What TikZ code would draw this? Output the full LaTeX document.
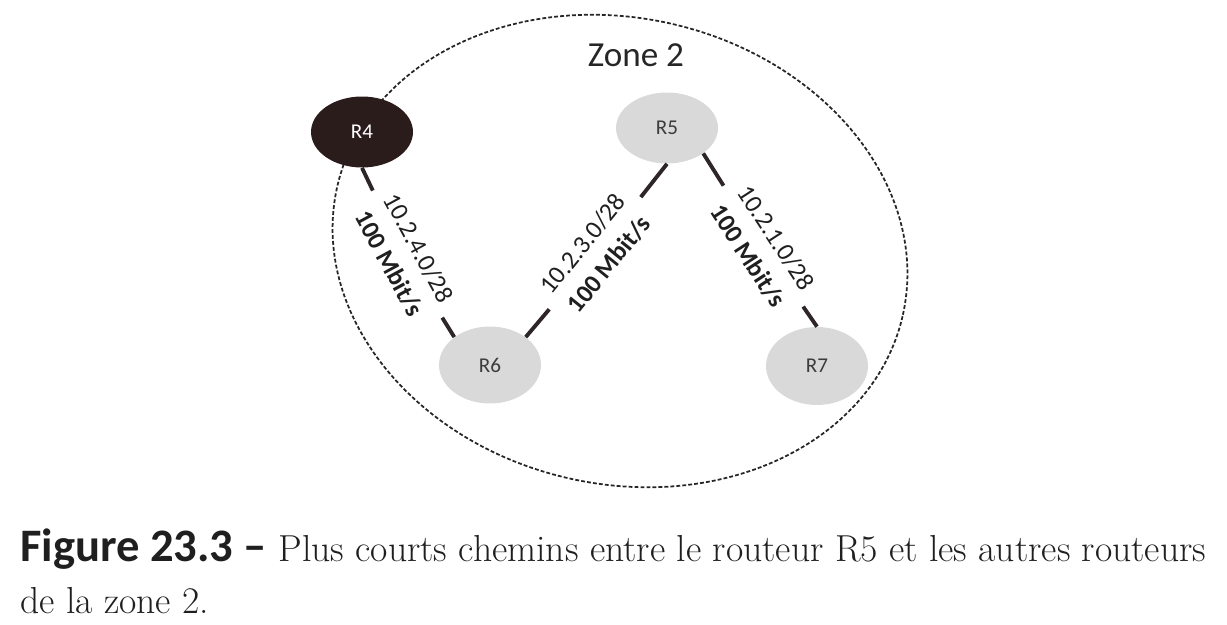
\documentclass[tikz,border=0pt]{standalone}
\usepackage{fontspec}
\newfontfamily\calibri{Carlito}
\usetikzlibrary{shapes.geometric}

\definecolor{routerGray}{HTML}{D9D9D9}
\definecolor{routerDark}{HTML}{2B1C1C}
\definecolor{linkDark}{HTML}{2E2626}
\definecolor{textGray}{HTML}{3C3C3C}

\begin{document}
\begin{tikzpicture}[x=0.02cm,y=-0.02cm,
  router/.style={ellipse,fill=routerGray,text=textGray,inner sep=0pt,
    minimum width=2.04cm,minimum height=1.42cm,
    font=\calibri\fontsize{12}{14}\selectfont},
  link/.style={draw=linkDark,line width=2.2pt},
  netlbl/.style={align=center,inner xsep=7pt,inner ysep=1pt,text=black!88,
    font=\calibri\fontsize{14.5}{19}\selectfont}]
  \useasboundingbox (0,0) rectangle (1227,625);

  \draw[black!85,line width=1pt,dash pattern=on 2.2pt off 1.2pt,
    rotate around={-13:(620,251)}] (620,251) ellipse [x radius=290,y radius=233];
  \node[font=\calibri\fontsize{20}{24}\selectfont,text=black!85] (zone) at (636,55) {Zone 2};

  \node[router,fill=routerDark,text=white] (r4) at (362,132) {R4};
  \node[router] (r5) at (667,128) {R5};
  \node[router,minimum height=1.54cm] (r6) at (490,365) {R6};
  \node[router,minimum height=1.56cm] (r7) at (817,366) {R7};

  \node[netlbl,rotate=-61.5] (n46) at (404,256) {10.2.4.0/28\\\textbf{100 Mbit/s}};
  \node[netlbl,rotate=51] (n56) at (596,254) {10.2.3.0/28\\\textbf{100 Mbit/s}};
  \node[netlbl,rotate=-57] (n57) at (762,247) {10.2.1.0/28\\\textbf{100 Mbit/s}};

  \draw[link] (r4.south) -- (n46);
  \draw[link] (n46) -- (r6.142);
  \draw[link] (r5.south) -- (n56);
  \draw[link] (n56) -- (r6.38);
  \draw[link] (r5.-35) -- (n57);
  \draw[link] (n57) -- (r7.north);

  \node[anchor=north west,align=left,inner sep=0pt,text=black!88,
    font=\fontsize{21.4}{30}\selectfont] (caption) at (20,528)
    {{\calibri\bfseries\fontsize{26.5}{30}\selectfont Figure 23.3 \textendash}
     Plus courts chemins entre le routeur R5 et les autres routeurs\\
     de la zone 2.};
\end{tikzpicture}
\end{document}
